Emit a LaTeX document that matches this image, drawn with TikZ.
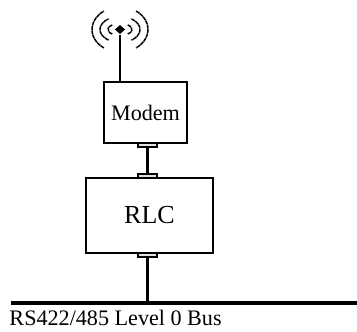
\documentclass[tikz,border=0pt]{standalone}
\usepackage{fontspec}
\setmainfont{Liberation Serif}
\usetikzlibrary{shapes.geometric}

\tikzset{every picture/.style={line width=0.75pt}}
\tikzset{
  blockbox/.style={draw,line width=1.1pt,inner sep=0pt,fill=white},
  pinbox/.style={draw,line width=0.9pt,inner sep=0pt,minimum width=14.25pt,minimum height=3pt,fill=black!12},
  thickline/.style={line width=2.4pt},
  wave/.style={line width=1.1pt,dash pattern=on 3pt off 0.4pt},
}

\begin{document}
\begin{tikzpicture}[x=0.75pt,y=0.75pt,yscale=-1,xscale=1]
\useasboundingbox (0,0) rectangle (357,332);

%Shape: Rectangle
\node [blockbox,minimum width=62.25pt,minimum height=45.75pt] (modem) at (145.5,112.5) {\fontsize{16.6}{19}\selectfont Modem};
\node [blockbox,minimum width=95.25pt,minimum height=56.25pt] (rlc) at (149.5,215.5) {\fontsize{19.5}{23}\selectfont RLC};

%Pins
\node [pinbox] (pinma) at (147.5,145) {};
\node [pinbox] (pinrt) at (147.5,176) {};
\node [pinbox] (pinrb) at (147.5,255) {};

%Antenna
\node [diamond,fill=black,inner sep=0pt,minimum width=8pt,minimum height=7pt] (ant) at (120,29.5) {};
\draw [line width=1.1pt] (ant) -- (ant |- modem.north);
\draw [wave] (ant.center) ++(-50:12 and 6) arc (-50:50:12 and 6);
\draw [wave] (ant.center) ++(130:12 and 6) arc (130:230:12 and 6);
\draw [wave] (ant.center) ++(-55:20 and 13) arc (-55:55:20 and 13);
\draw [wave] (ant.center) ++(125:20 and 13) arc (125:235:20 and 13);
\draw [wave] (ant.center) ++(-55:28 and 22.5) arc (-55:55:28 and 22.5);
\draw [wave] (ant.center) ++(125:28 and 22.5) arc (125:235:28 and 22.5);

%Straight Lines
\draw [thickline] (pinma) -- (pinrt);
\coordinate (busl) at (11,303);
\coordinate (busr) at (357,303);
\draw [thickline] (busl) -- (busr);
\draw [thickline] (pinrb) -- (pinrb |- busl);

% Text Node
\node [anchor=north west,inner sep=0pt] (buslabel) at (9,310) {\fontsize{16.6}{19}\selectfont RS422/485 Level 0 Bus};

\end{tikzpicture}
\end{document}
